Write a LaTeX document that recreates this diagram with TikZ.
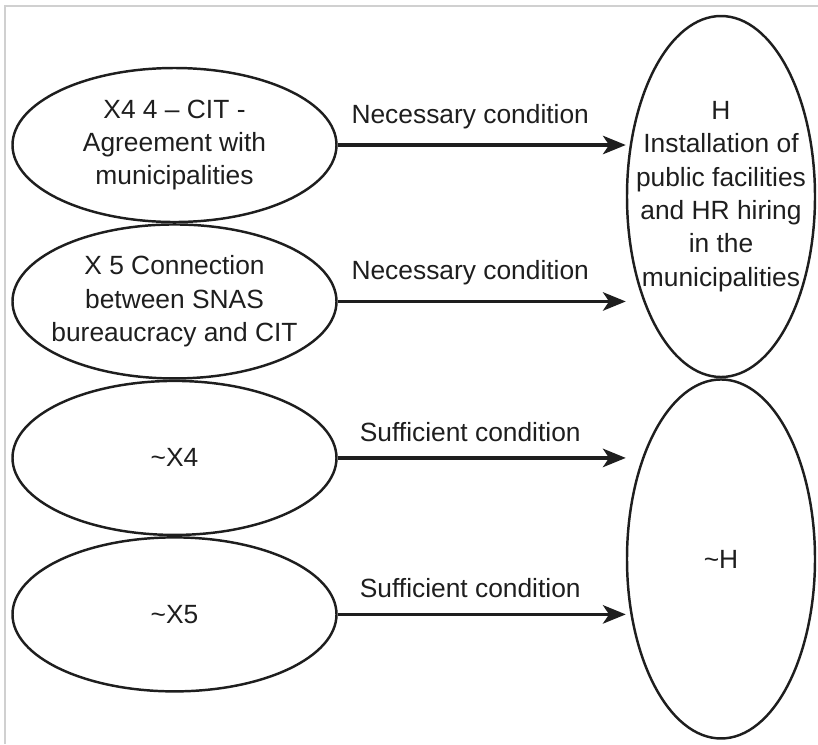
\documentclass[tikz,border=0pt]{standalone}
\usepackage{fontspec}
\setmainfont{Liberation Sans}
\usepackage{tikz}
\usetikzlibrary{shapes.geometric, arrows.meta, positioning}
\usepackage{xcolor}
\definecolor{framegray}{HTML}{D0D0D0}
\definecolor{inkgray}{HTML}{1E1E1E}
\tikzset{
  cond/.style={
    ellipse, draw=inkgray, line width=1.4pt,
    minimum width=6.48cm, minimum height=3.08cm, inner sep=0pt
  },
  outcome/.style={
    ellipse, draw=inkgray, line width=1.4pt,
    minimum width=3.76cm, minimum height=#1, inner sep=0pt
  },
  condtext/.style={
    align=center, text=inkgray, inner sep=0pt,
    font=\fontsize{15}{19}\selectfont
  },
  lbl/.style={
    above=5pt, text=inkgray, font=\fontsize{15}{19}\selectfont
  },
  arrow/.style={-{Stealth[length=13pt, width=10.5pt, inset=3.5pt]},
    line width=1.8pt, draw=inkgray}
}

\begin{document}
\begin{tikzpicture}
        \useasboundingbox (0,0) rectangle (16.36,-14.88);
        \draw[framegray, line width=0.6pt] (0.1,-14.88) |- (16.36,-0.12);
        % conditions on the left
        \node[cond, label={[condtext]center:{X4 4 – CIT -\\Agreement with\\municipalities}}]
          at (3.49,-2.9) (x4) {};
        \node[cond, below=0cm of x4,
              label={[condtext]center:{X 5 Connection\\between SNAS\\bureaucracy and CIT}}]
          (x5) {};
        \node[cond, below=0cm of x5,
              label={[condtext]center:{\textasciitilde X4}}] (nx4) {};
        \node[cond, below=0cm of nx4,
              label={[condtext]center:{\textasciitilde X5}}] (nx5) {};
        % outcomes on the right
        \node[outcome=7.22cm,
              label={[condtext]center:{H\\Installation of\\public facilities\\and HR hiring\\in the\\municipalities}}]
          at (14.42,-3.93) (h) {};
        \node[outcome=7.18cm, below=0cm of h,
              label={[condtext]center:{\textasciitilde H}}] (nh) {};
        \foreach \a/\b/\t in {x4/h/Necessary, x5/h/Necessary,
                              nx4/nh/Sufficient, nx5/nh/Sufficient}{%
          \draw[arrow] (\a.east) -- node[lbl, pos=0.46] {\t\ condition}
            (\a.east -| \b.west);}
      \end{tikzpicture}
\end{document}
